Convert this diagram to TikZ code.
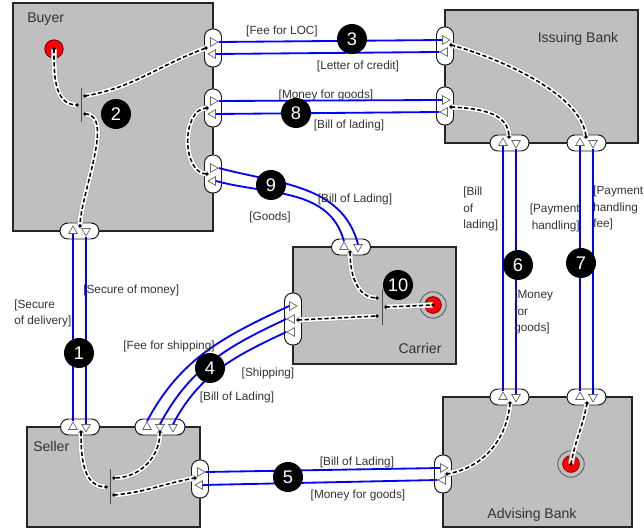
\documentclass[tikz,border=0pt]{standalone}
\usepackage{fontspec}
\setmainfont{Liberation Sans}
\usetikzlibrary{shapes.geometric}

\begin{document}
\begin{tikzpicture}[x=0.25mm, y=0.25mm,
      caja/.style={draw=black!85, line width=1pt, fill=black!25, inner sep=0pt},
      nomCaja/.style={font=\fontsize{10}{12}\selectfont, text=black!80, inner sep=0pt},
      puerto/.style={draw=black!90, line width=0.7pt, fill=white, rounded corners=2mm, inner sep=0pt},
      puertoH/.style={puerto, minimum width=9.75mm, minimum height=4mm},
      puertoV/.style={puerto, minimum width=4.25mm, minimum height=9.5mm},
      tri/.style={regular polygon, regular polygon sides=3, draw=black!60, fill=white, line width=0.5pt, minimum size=2.5mm, inner sep=0pt},
      tSub/.style={tri},
      tBaj/.style={tri, shape border rotate=180},
      tDer/.style={tri, shape border rotate=-90},
      tIzq/.style={tri, shape border rotate=90},
      barra/.style={fill=black!70, minimum width=0.7pt, inner sep=0pt},
      flujo/.style={line width=1.1pt, dash pattern=on 3pt off 1.7pt,
        preaction={draw=black!35, line width=4.2pt, solid},
        preaction={draw=white, line width=3.4pt, solid}},
      canal/.style={draw=blue, line width=1.3pt},
      inicio/.style={circle, fill=red, draw=red!45!black, line width=0.6pt, minimum size=4.6mm, inner sep=0pt},
      anillo/.style={circle, draw=black!65, line width=0.6pt, minimum size=6.6mm, inner sep=0pt},
      nucleo/.style={circle, fill=red, draw=red!45!black, line width=0.5pt, minimum size=4.2mm, inner sep=0pt},
      marca/.style={circle, fill=black, text=white, minimum size=7.5mm, inner sep=0pt, font=\fontsize{13}{15}\selectfont},
      etiqueta/.style={font=\fontsize{8.4}{12}\selectfont, text=black!80, align=left, inner sep=0pt}
    ]
    \useasboundingbox (0,0) rectangle (644,-529);

    % --- Buyer ---
    \node[caja, minimum width=50mm, minimum height=57mm] (comprador) at (113,-117) {};
    \node[nomCaja, anchor=west] (nComprador) at (27,-19) {Buyer};
    \node[puertoV] (cP1) at (213,-48) {};
    \node[puertoV] (cP2) at (213,-108) {};
    \node[puertoV] (cP3) at (213,-174) {};
    \node[puertoH] (cP4) at (79.5,-231) {};
    \node[tDer] (cP1a) at (213,-42) {};
    \node[tIzq] (cP1b) at (213,-54) {};
    \node[tDer] (cP2a) at (213,-101) {};
    \node[tIzq] (cP2b) at (213,-114) {};
    \node[tDer] (cP3a) at (213,-168) {};
    \node[tIzq] (cP3b) at (213,-181) {};
    \node[tSub] (cP4a) at (73,-231) {};
    \node[tBaj] (cP4b) at (86,-231) {};
    \node[barra, minimum height=8.5mm] (cBarra) at (81,-105) {};
    \node[inicio] (cIni) at (54,-49) {};
    \coordinate (cP1d) at (206,-48);
    \coordinate (cP2d) at (207,-108);
    \coordinate (cP3d) at (207,-174);
    \coordinate (cP4d) at (80,-226);
    \coordinate (cBarE) at (77,-105);
    \coordinate (cBarS1) at (85,-96);
    \coordinate (cBarS2) at (85,-114);

    % --- Issuing Bank ---
    \node[caja, minimum width=48.25mm, minimum height=33.25mm] (emisor) at (541.5,-76.5) {};
    \node[nomCaja] (nEmisor) at (578,-39) {Issuing Bank};
    \node[puertoV] (iP1) at (445,-46) {};
    \node[puertoV] (iP2) at (445,-106) {};
    \node[puertoH] (iP3) at (509.5,-143) {};
    \node[puertoH] (iP4) at (586.5,-143) {};
    \node[tDer] (iP1a) at (445,-40) {};
    \node[tIzq] (iP1b) at (445,-52) {};
    \node[tDer] (iP2a) at (445,-100) {};
    \node[tIzq] (iP2b) at (445,-112) {};
    \node[tSub] (iP3a) at (503,-143) {};
    \node[tBaj] (iP3b) at (516,-143) {};
    \node[tSub] (iP4a) at (580,-143) {};
    \node[tBaj] (iP4b) at (593,-143) {};
    \coordinate (iP1d) at (451,-45);
    \coordinate (iP2d) at (451,-107);
    \coordinate (iP3d) at (509,-137);
    \coordinate (iP4d) at (586,-137);

    % --- Carrier ---
    \node[caja, minimum width=40.75mm, minimum height=29.25mm] (transp) at (374.5,-305.5) {};
    \node[nomCaja] (nTransp) at (420,-348) {Carrier};
    \node[puertoV, minimum height=13mm] (tP1) at (293,-319) {};
    \node[puertoH] (tP2) at (351,-247) {};
    \node[tDer] (tP1a) at (292,-306) {};
    \node[tIzq] (tP1b) at (292,-319) {};
    \node[tIzq] (tP1c) at (292,-332) {};
    \node[tSub] (tP2a) at (344,-247) {};
    \node[tBaj] (tP2b) at (358,-247) {};
    \node[barra, minimum height=9mm] (tBarra) at (382,-307) {};
    \node[anillo] (tFin) at (433,-305) {};
    \node[nucleo] (tFinN) at (433,-305) {};
    \coordinate (tP1d) at (298,-320);
    \coordinate (tP2d) at (350,-252);
    \coordinate (tBarE1) at (377,-298);
    \coordinate (tBarE2) at (377,-316);
    \coordinate (tBarS) at (386,-307);

    % --- Seller ---
    \node[caja, minimum width=43.25mm, minimum height=25mm] (vendedor) at (113.5,-477) {};
    \node[nomCaja, anchor=west] (nVendedor) at (33,-446) {Seller};
    \node[puertoH] (sP1) at (80,-427) {};
    \node[puertoH, minimum width=12.5mm] (sP2) at (160,-427) {};
    \node[puertoV] (sP3) at (200,-479) {};
    \node[tSub] (sP1a) at (73,-427) {};
    \node[tBaj] (sP1b) at (86,-427) {};
    \node[tSub] (sP2a) at (147,-427) {};
    \node[tBaj] (sP2b) at (160,-427) {};
    \node[tBaj] (sP2c) at (173,-427) {};
    \node[tDer] (sP3a) at (200,-472) {};
    \node[tIzq] (sP3b) at (200,-485) {};
    \node[barra, minimum height=8.75mm] (sBarra) at (110,-486.5) {};
    \coordinate (sP1d) at (81,-432);
    \coordinate (sP2d) at (160,-432);
    \coordinate (sP3d) at (195,-478);
    \coordinate (sBarE) at (106,-487);
    \coordinate (sBarS1) at (114,-478);
    \coordinate (sBarS2) at (114,-495);

    % --- Advising Bank ---
    \node[caja, minimum width=47.25mm, minimum height=32.5mm] (avisador) at (537.5,-462) {};
    \node[nomCaja] (nAvisador) at (532,-515) {Advising Bank};
    \node[puertoV] (aP1) at (443,-474) {};
    \node[puertoH] (aP2) at (509.5,-397) {};
    \node[puertoH] (aP3) at (586.5,-397) {};
    \node[tDer] (aP1a) at (443,-468) {};
    \node[tIzq] (aP1b) at (443,-480) {};
    \node[tSub] (aP2a) at (503,-397) {};
    \node[tBaj] (aP2b) at (516,-397) {};
    \node[tSub] (aP3a) at (580,-397) {};
    \node[tBaj] (aP3b) at (593,-397) {};
    \node[anillo] (aFin) at (571,-464) {};
    \node[nucleo] (aFinN) at (571,-464) {};
    \coordinate (aP1d) at (447,-474);
    \coordinate (aP2d) at (510,-403);
    \coordinate (aP3d) at (587,-403);

    % --- canales entre actores ---
    \draw[canal] (cP4a.south) -- (sP1a.north);
    \draw[canal] (cP4b.south) -- (sP1b.north);
    \draw[canal] (cP1a.east) -- (iP1a.west);
    \draw[canal] (iP1b.west) -- (cP1b.east);
    \draw[canal] (sP2a.north) to[out=62,in=205] (tP1a.west);
    \draw[canal] (sP2b.north) to[out=62,in=205] (tP1b.west);
    \draw[canal] (sP2c.north) to[out=62,in=205] (tP1c.west);
    \draw[canal] (sP3a.east) -- (aP1a.west);
    \draw[canal] (aP1b.west) -- (sP3b.east);
    \draw[canal] (iP3a.south) -- (aP2a.north);
    \draw[canal] (iP3b.south) -- (aP2b.north);
    \draw[canal] (iP4a.south) -- (aP3a.north);
    \draw[canal] (iP4b.south) -- (aP3b.north);
    \draw[canal] (cP2a.east) -- (iP2a.west);
    \draw[canal] (iP2b.west) -- (cP2b.east);
    \draw[canal] (cP3a.east) to[out=-15,in=105] (tP2b.north);
    \draw[canal] (cP3b.east) to[out=-15,in=105] (tP2a.north);

    % --- flujos internos ---
    \draw[flujo] (cIni.center) to[out=-90,in=180] (cBarE);
    \draw[flujo] (cBarS1) to[out=10,in=200] (cP1d);
    \draw[flujo] (cBarS2) to[out=0,in=90,looseness=0.7] (cP4d);
    \draw[flujo] (cP2d) to[out=180,in=180] (cP3d);
    \draw[flujo] (iP1d) to[out=-15,in=95,looseness=0.7] (iP4d);
    \draw[flujo] (iP2d) to[out=-3,in=90] (iP3d);
    \draw[flujo] (tP2d) to[out=-90,in=180] (tBarE1);
    \draw[flujo] (tP1d) -- (tBarE2);
    \draw[flujo] (tBarS) -- (tFin.center);
    \draw[flujo] (sP1d) to[out=-90,in=180] (sBarE);
    \draw[flujo] (sP2d) to[out=-90,in=0] (sBarS1);
    \draw[flujo] (sBarS2) to[out=5,in=190] (sP3d);
    \draw[flujo] (aP2d) to[out=-95,in=10] (aP1d);
    \draw[flujo] (aP3d) to[out=-100,in=80] (aFin.center);
    \foreach \p in {cIni,cP1d,cP2d,cP3d,cP4d,cBarE,cBarS1,cBarS2,iP1d,iP2d,iP3d,iP4d,
                    tP1d,tP2d,tBarE1,tBarE2,tBarS,tFin,sP1d,sP2d,sP3d,sBarE,sBarS1,sBarS2,
                    aP1d,aP2d,aP3d,aFin}
      \fill[black] (\p) circle (1.4pt);

    % --- marcas numeradas ---
    \node[marca] (m1) at (79,-353) {1};
    \node[marca] (m2) at (116,-114) {2};
    \node[marca] (m3) at (352,-39) {3};
    \node[marca] (m4) at (210,-368) {4};
    \node[marca] (m5) at (288,-477) {5};
    \node[marca] (m6) at (518,-265) {6};
    \node[marca] (m7) at (581,-263) {7};
    \node[marca] (m8) at (296,-113) {8};
    \node[marca] (m9) at (271,-185) {9};
    \node[marca] (m10) at (398,-285) {10};

    % --- etiquetas ---
    \node[etiqueta] (eFeeLoc) at (282,-31) {[Fee for LOC]};
    \node[etiqueta] (eLetter) at (358,-66) {[Letter of credit]};
    \node[etiqueta] (eMoney8) at (326,-95) {[Money for goods]};
    \node[etiqueta] (eBill8) at (349,-125) {[Bill of lading]};
    \node[etiqueta] (eBill9) at (355,-199) {[Bill of Lading]};
    \node[etiqueta] (eGoods) at (270,-217) {[Goods]};
    \node[etiqueta, anchor=west] (eSecMoney) at (83,-290) {[Secure of money]};
    \node[etiqueta, anchor=west] (eSecDeliv) at (14,-313.5) {[Secure\\of delivery]};
    \node[etiqueta] (eFeeShip) at (169,-346) {[Fee for shipping]};
    \node[etiqueta] (eShip) at (268,-373) {[Shipping]};
    \node[etiqueta] (eBill4) at (237,-397) {[Bill of Lading]};
    \node[etiqueta] (eBill5) at (357,-462) {[Bill of Lading]};
    \node[etiqueta] (eMoney5) at (358,-495) {[Money for goods]};
    \node[etiqueta, anchor=west] (eBill6) at (463,-209) {[Bill\\ of\\ lading]};
    \node[etiqueta, anchor=west] (eMoney6) at (514,-312) {[Money\\ for\\ goods]};
    \node[etiqueta, anchor=east, align=right] (ePay7) at (580,-218) {[Payment\\handling]};
    \node[etiqueta, anchor=west] (eFee7) at (593,-208) {[Payment\\ handling\\ fee]};
  \end{tikzpicture}
\end{document}
